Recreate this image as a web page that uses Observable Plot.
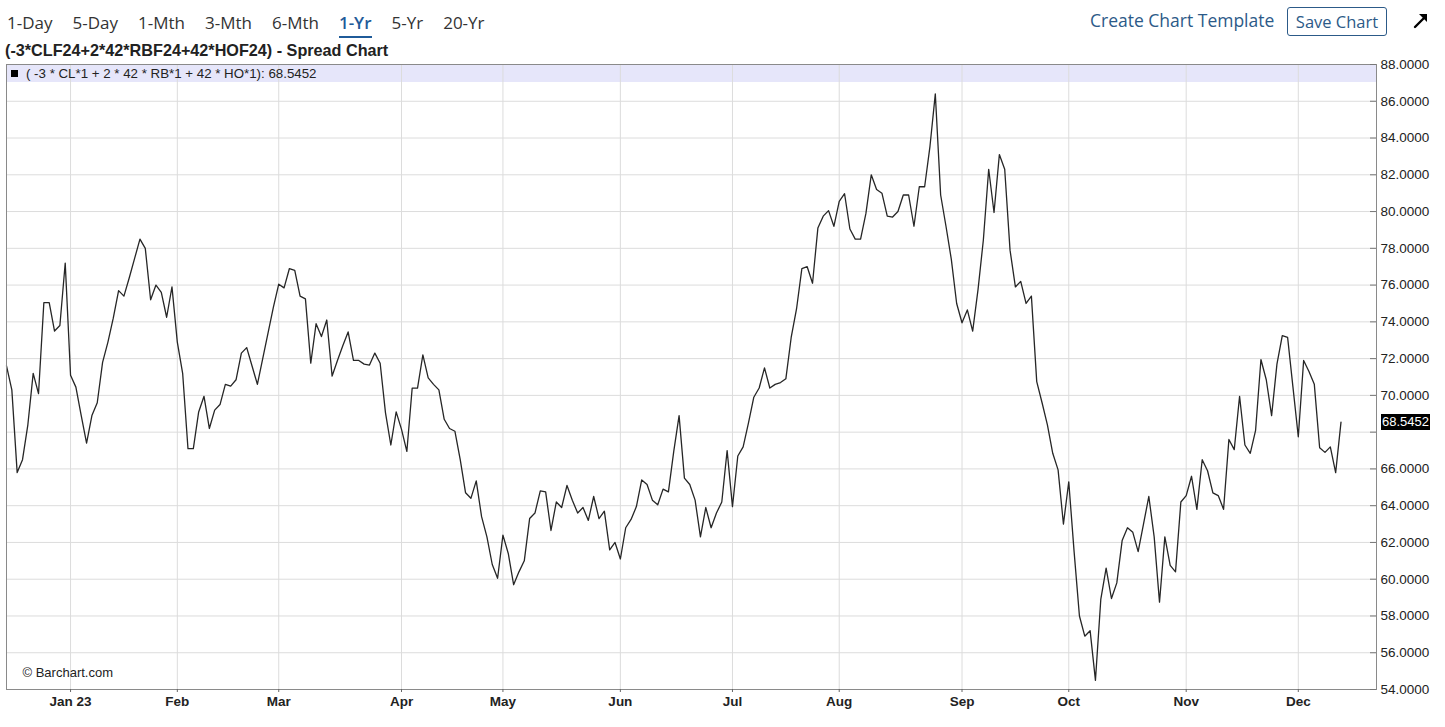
<!DOCTYPE html>
<html>
<head>
<meta charset="utf-8">
<script src="https://cdn.jsdelivr.net/npm/d3@7"></script>
<script src="https://cdn.jsdelivr.net/npm/@observablehq/plot@0.6"></script>
<style>
  html, body { margin: 0; padding: 0; background: #fff; width: 1445px; height: 727px; overflow: hidden; }
  #wrap { position: relative; width: 1445px; height: 727px; }
  #band { position: absolute; left: 6px; top: 64px; width: 1370px; height: 18px; background: #e6e6fa; z-index: 0; }
  #chart { position: absolute; left: 0; top: 0; z-index: 1; }
  .ov { position: absolute; z-index: 2; white-space: nowrap; }
  #tabs { left: 7px; top: 10.5px; display: flex; gap: 20px; font-family: "Open Sans", sans-serif; font-size: 17px; line-height: 24px; color: #333; }
  #tabs .active { color: #1f5b99; font-weight: 600; border-bottom: 2px solid #1f5b99; padding-bottom: 1px; }
  #tmpl { left: 1090px; top: 9.3px; font-family: "Open Sans", sans-serif; font-size: 17.5px; line-height: 22px; color: #2c5a88; }
  #save { left: 1287px; top: 7px; width: 98px; height: 27px; border: 1px solid #2c5a88; border-radius: 3px; font-family: "Open Sans", sans-serif; font-size: 16.5px; line-height: 27px; color: #2c5a88; text-align: center; }
  #arrow { left: 1412px; top: 13px; }
  #title { left: 5px; top: 41.5px; font-family: "Liberation Sans", Arial, sans-serif; font-weight: bold; font-size: 16.2px; line-height: 16px; color: #222; }
  #legend { left: 11px; top: 66px; height: 15px; font-family: "Liberation Sans", Arial, sans-serif; font-size: 13.3px; line-height: 15px; color: #222; }
  #legend .sw { display: inline-block; width: 7px; height: 7px; background: #000; margin-right: 8px; vertical-align: 1px; }
  #badge { left: 1381px; width: 49px; height: 16px; background: #000; color: #fff; font-family: "Liberation Sans", Arial, sans-serif; font-size: 13px; line-height: 16px; text-align: center; }
</style>
</head>
<body>
<div id="wrap">
  <div id="band"></div>
  <div id="chart"></div>
  <div id="tabs" class="ov"></div>
  <div id="tmpl" class="ov">Create Chart Template</div>
  <div id="save" class="ov">Save Chart</div>
  <svg id="arrow" class="ov" width="18" height="16" viewBox="0 0 18 16">
    <line x1="3" y1="14" x2="12" y2="5" stroke="#000" stroke-width="2.4" stroke-linecap="round"/>
    <polygon points="15,1 15,9 7,1" fill="#000"/>
  </svg>
  <div id="title" class="ov"></div>
  <div id="legend" class="ov"></div>
  <div id="badge" class="ov"></div>
</div>
<script>
// ---------------- data ----------------
const rangeTabs = ["1-Day", "5-Day", "1-Mth", "3-Mth", "6-Mth", "1-Yr", "5-Yr", "20-Yr"];
const activeTab = "1-Yr";
const chartTitle = "(-3*CLF24+2*42*RBF24+42*HOF24) - Spread Chart";
const seriesName = "( -3 * CL*1 + 2 * 42 * RB*1 + 42 * HO*1)";
const creditText = "\u00A9 Barchart.com";

// trading calendar (daily bars, exchange holidays skipped)
const firstTradingDay = "2022-12-14";
const exchangeHolidays = ["2022-12-26", "2023-01-02", "2023-01-16", "2023-02-20", "2023-04-07",
  "2023-05-29", "2023-06-19", "2023-07-04", "2023-09-04", "2023-11-23"];

// daily spread closes
const spread = [
  71.6, 70.3, 65.8, 66.5, 68.4, 71.2, 70.1, 75.05, 75.05, 73.5,
  73.8, 77.2, 71.1, 70.45, 68.9, 67.4, 68.9, 69.6, 71.8, 72.9,
  74.2, 75.7, 75.4, 76.4, 77.45, 78.5, 78.0, 75.2, 76.0, 75.6,
  74.25, 75.9, 72.9, 71.2, 67.1, 67.1, 69.1, 69.95, 68.2, 69.2,
  69.5, 70.6, 70.5, 70.85, 72.3, 72.6, 71.6, 70.6, 72.0, 73.4,
  74.8, 76.05, 75.85, 76.9, 76.8, 75.4, 75.25, 71.75, 73.9, 73.2,
  74.1, 71.05, 71.9, 72.7, 73.45, 71.9, 71.9, 71.7, 71.65, 72.3,
  71.75, 69.05, 67.3, 69.1, 68.15, 66.95, 70.4, 70.4, 72.2, 70.95,
  70.6, 70.3, 68.7, 68.2, 68.05, 66.5, 64.7, 64.4, 65.35, 63.4,
  62.3, 60.8, 60.05, 62.4, 61.4, 59.7, 60.4, 61.0, 63.3, 63.6,
  64.8, 64.75, 62.65, 64.2, 63.9, 65.1, 64.3, 63.6, 63.9, 63.2,
  64.5, 63.3, 63.7, 61.6, 62.0, 61.1, 62.8, 63.25, 63.95, 65.4,
  65.15, 64.3, 64.05, 64.9, 64.75, 66.95, 68.9, 65.5, 65.15, 64.3,
  62.3, 63.9, 62.8, 63.6, 64.2, 67.0, 63.95, 66.7, 67.2, 68.5,
  69.9, 70.4, 71.5, 70.4, 70.6, 70.7, 70.9, 73.15, 74.7, 76.9,
  77.0, 76.1, 79.1, 79.75, 80.05, 79.2, 80.55, 80.97, 79.05, 78.5,
  78.5, 79.9, 82.0, 81.2, 81.0, 79.75, 79.7, 80.0, 80.9, 80.9,
  79.2, 81.35, 81.35, 83.55, 86.4, 80.9, 79.2, 77.4, 75.0, 73.95,
  74.65, 73.5, 75.75, 78.45, 82.3, 79.95, 83.1, 82.3, 77.9, 75.9,
  76.2, 75.0, 75.4, 70.75, 69.6, 68.4, 66.85, 65.95, 63.0, 65.3,
  61.5, 58.0, 56.9, 57.2, 54.5, 58.9, 60.6, 58.95, 59.8, 62.1,
  62.8, 62.55, 61.5, 63.0, 64.5, 62.3, 58.75, 62.3, 60.75, 60.4,
  64.2, 64.55, 65.6, 63.8, 66.5, 65.9, 64.7, 64.55, 63.8, 67.6,
  67.05, 69.95, 67.3, 66.85, 68.1, 71.95, 70.85, 68.9, 71.7, 73.25,
  73.15, 70.45, 67.75, 71.9, 71.3, 70.6, 67.15, 66.9, 67.2, 65.8,
  68.5452
];

const yTicks = [54, 56, 58, 60, 62, 64, 66, 68, 70, 72, 74, 76, 78, 80, 82, 84, 86, 88];
const yDomain = [54, 88];

// ---------------- build ----------------
const hol = new Set(exchangeHolidays);
const dates = [];
let cur = new Date(firstTradingDay + "T00:00:00Z");
while (dates.length < spread.length) {
  const dow = cur.getUTCDay();
  const iso = cur.toISOString().slice(0, 10);
  if (dow !== 0 && dow !== 6 && !hol.has(iso)) dates.push(new Date(cur));
  cur = new Date(cur.getTime() + 86400000);
}
const rows = spread.map((v, i) => ({i, date: dates[i], v}));
const monthStarts = rows.filter((r, k) => k > 0 && r.date.getUTCMonth() !== rows[k - 1].date.getUTCMonth());
const monthIdx = monthStarts.map(r => r.i);
const monthLabel = new Map(monthStarts.map(r => [r.i,
  r.date.getUTCMonth() === 0 ? d3.utcFormat("%b %y")(r.date) : d3.utcFormat("%b")(r.date)]));

const last = spread[spread.length - 1];

// layout
const W = 1445, H = 727;
const mL = 6, mR = 69, mT = 64, mB = 38;
const pxPerBar = 5.338;
const pxPerUnit = (H - mT - mB) / (yDomain[1] - yDomain[0]);
const xMax = (W - mL - mR) / pxPerBar;
const innerTick = 6 / pxPerBar;
// the last-value badge hides any tick label it would cover
const yLabelTicks = yTicks.filter(t => Math.abs(t - last) * pxPerUnit > 13);

const chart = Plot.plot({
  width: W, height: H,
  marginLeft: mL, marginRight: mR, marginTop: mT, marginBottom: mB,
  x: {type: "linear", domain: [0, xMax], axis: null},
  y: {domain: yDomain, axis: null},
  style: {background: "transparent", fontFamily: "'Liberation Sans', Arial, sans-serif", fontSize: "13px", color: "#222"},
  marks: [
    Plot.gridX(monthIdx, {stroke: "#dcdcdc", strokeOpacity: 1}),
    Plot.gridY(yTicks, {stroke: "#dcdcdc", strokeOpacity: 1}),
    Plot.line(rows, {x: "i", y: "v", stroke: "#262626", strokeWidth: 1.3}),
    Plot.frame({stroke: "#8a8a8a"}),
    Plot.ruleY(yTicks, {x1: xMax - innerTick, x2: xMax, stroke: "#777"}),
    Plot.axisY(yLabelTicks, {anchor: "right", tickSize: 0, tickPadding: 4, tickFormat: d => d.toFixed(4),
      fontSize: 13.5, fill: "#222", label: null}),
    Plot.axisX(monthIdx, {anchor: "bottom", tickSize: 3, tickPadding: 4, stroke: "#666",
      tickFormat: d => monthLabel.get(d), fontWeight: "bold", fontSize: 13.5, fill: "#222", label: null}),
    Plot.text([creditText], {text: d => d, frameAnchor: "bottom-left", textAnchor: "start",
      dx: 16, dy: -12.5, fontSize: 13, fill: "#222"})
  ]
});
document.getElementById("chart").appendChild(chart);

// overlays (HTML text)
const tabs = document.getElementById("tabs");
for (const t of rangeTabs) {
  const s = document.createElement("span");
  s.textContent = t;
  if (t === activeTab) s.className = "active";
  tabs.appendChild(s);
}
document.getElementById("title").textContent = chartTitle;
const lg = document.getElementById("legend");
const sw = document.createElement("span"); sw.className = "sw"; lg.appendChild(sw);
lg.appendChild(document.createTextNode(seriesName + ": " + last.toFixed(4)));
const badge = document.getElementById("badge");
badge.textContent = last.toFixed(4);
badge.style.top = (chart.scale("y").apply(last) - 8) + "px";
</script>
</body>
</html>
